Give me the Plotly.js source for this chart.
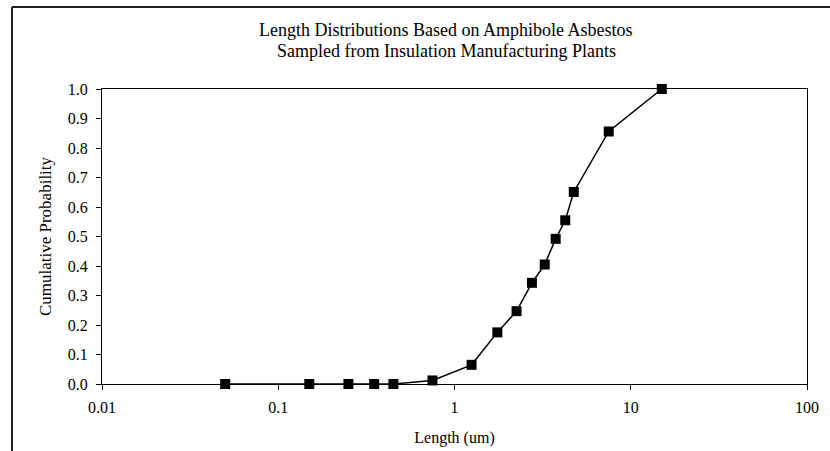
<!DOCTYPE html>
<html>
<head>
<meta charset="utf-8">
<script src="https://cdn.plot.ly/plotly-3.0.1.min.js"></script>
<style>html,body{margin:0;padding:0;background:#fff;}#chart{width:830px;height:451px;}</style>
</head>
<body>
<div id="chart"></div>
<script>
// Data
const lengthUm = [0.05, 0.15, 0.25, 0.35, 0.45, 0.75, 1.25, 1.75, 2.25, 2.75, 3.25, 3.75, 4.25, 4.75, 7.5, 15];
const cumProb  = [0, 0, 0, 0, 0, 0.012, 0.065, 0.175, 0.247, 0.343, 0.405, 0.492, 0.555, 0.651, 0.856, 1.0];
const xTickVals = [0.01, 0.1, 1, 10, 100];
const xTickText = ["0.01", "0.1", "1", "10", "100"];
const titleLines = ["Length Distributions Based on Amphibole Asbestos", "Sampled from Insulation Manufacturing Plants"];
const xTitle = "Length (um)";
const yTitle = "Cumulative Probability";

const serif = "Liberation Serif, Times New Roman, serif";

const trace = {
  x: lengthUm,
  y: cumProb,
  type: "scatter",
  mode: "lines+markers",
  line: {color: "#000", width: 1.5},
  marker: {symbol: "square", size: 10, color: "#000"},
  cliponaxis: false,
  hoverinfo: "skip"
};

const layout = {
  width: 830,
  height: 451,
  margin: {l: 102, r: 23, t: 89, b: 67},
  paper_bgcolor: "#fff",
  plot_bgcolor: "#fff",
  showlegend: false,
  font: {family: serif, size: 16, color: "#000"},
  xaxis: {
    type: "log",
    range: [-2, 2],
    tickvals: xTickVals,
    ticktext: xTickText,
    ticks: "outside", ticklen: 5, tickcolor: "#000", tickwidth: 1,
    ticklabelstandoff: 4,
    showline: true, linecolor: "#000", linewidth: 1, mirror: true,
    showgrid: false, zeroline: false,
    tickfont: {family: serif, size: 16, color: "#000"},
    title: {text: xTitle, font: {family: serif, size: 16, color: "#000"}, standoff: 16},
    automargin: false
  },
  yaxis: {
    range: [0, 1],
    dtick: 0.1, tick0: 0,
    tickformat: ".1f",
    ticks: "outside", ticklen: 5, tickcolor: "#000", tickwidth: 1,
    ticklabelstandoff: 5,
    showline: true, linecolor: "#000", linewidth: 1, mirror: true,
    showgrid: false, zeroline: false,
    tickfont: {family: serif, size: 16, color: "#000"},
    title: {text: yTitle, font: {family: serif, size: 17, color: "#000"}, standoff: 11},
    automargin: false
  },
  annotations: [
    {text: titleLines[0], xref: "paper", yref: "paper",
     x: (446 - 102) / 705, y: (384 - 30) / 295, xanchor: "center", yanchor: "middle",
     showarrow: false, font: {family: serif, size: 18, color: "#000"}},
    {text: titleLines[1], xref: "paper", yref: "paper",
     x: (446 - 102) / 705, y: (384 - 51) / 295, xanchor: "center", yanchor: "middle",
     showarrow: false, font: {family: serif, size: 18, color: "#000"}}
  ],
  shapes: [
    {type: "line", xref: "paper", yref: "paper",
     x0: (12 - 102) / 705, x1: (12 - 102) / 705, y0: -0.3, y1: (384 - 7) / 295,
     line: {color: "#222", width: 2}},
    {type: "line", xref: "paper", yref: "paper",
     x0: (12 - 102) / 705, x1: 1.1, y0: (384 - 7) / 295, y1: (384 - 7) / 295,
     line: {color: "#222", width: 2}}
  ]
};

Plotly.newPlot("chart", [trace], layout, {staticPlot: true, displayModeBar: false});
</script>
</body>
</html>
